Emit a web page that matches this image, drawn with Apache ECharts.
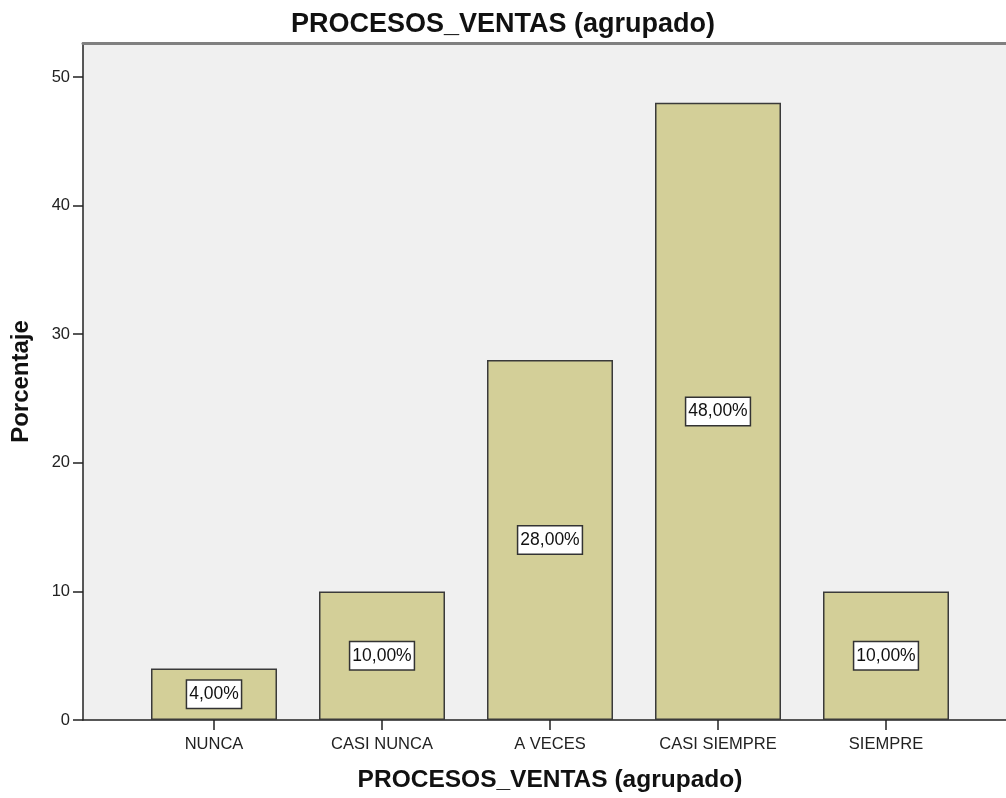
<!DOCTYPE html>
<html><head><meta charset="utf-8">
<script src="https://cdn.jsdelivr.net/npm/echarts@6/dist/echarts.min.js"></script>
<style>html,body{margin:0;padding:0;background:#fff}#c{width:1006px;height:798px}</style>
</head><body><div id="c"></div>
<script>
const categories = ['NUNCA', 'CASI NUNCA', 'A VECES', 'CASI SIEMPRE', 'SIEMPRE'];
const percentages = [4, 10, 28, 48, 10];
const yTicks = [0, 10, 20, 30, 40, 50];
const titleText = 'PROCESOS_VENTAS (agrupado)';
const xName = 'PROCESOS_VENTAS (agrupado)';
const yName = 'Porcentaje';

const FONT = '"Liberation Sans", Arial, sans-serif';
const YMAX = 52.65;
const chart = echarts.init(document.getElementById('c'), null, {renderer: 'canvas'});
chart.setOption({
  animation: false,
  textStyle: {fontFamily: FONT},
  title: {
    text: titleText, left: 'center', top: 6,
    textStyle: {fontFamily: FONT, fontSize: 27, fontWeight: 'bold', color: '#111'}
  },
  grid: [
    {left: 83, right: 0, top: 43, bottom: 78, show: true, backgroundColor: '#f0f0f0', borderWidth: 0},
    {left: 130, right: 36, top: 43, bottom: 78}
  ],
  xAxis: [
    {gridIndex: 0, type: 'value', min: 0, max: 1, position: 'bottom',
     axisLine: {show: true, lineStyle: {color: '#222', width: 1.5}},
     axisTick: {show: false}, axisLabel: {show: false}, splitLine: {show: false}},
    {gridIndex: 0, type: 'value', min: 0, max: 1, position: 'top',
     axisLine: {show: true, lineStyle: {color: '#808080', width: 3}},
     axisTick: {show: false}, axisLabel: {show: false}, splitLine: {show: false}},
    {gridIndex: 1, type: 'category', data: categories,
     axisLine: {show: false},
     axisTick: {show: true, alignWithLabel: true, length: 10, lineStyle: {color: '#222', width: 1.5}},
     axisLabel: {fontFamily: FONT, fontSize: 16.5, color: '#222', margin: 16},
     name: xName, nameLocation: 'middle', nameGap: 48,
     nameTextStyle: {fontFamily: FONT, fontSize: 24.5, fontWeight: 'bold', color: '#111'}}
  ],
  yAxis: [
    {gridIndex: 0, type: 'value', min: 0, max: YMAX,
     axisLine: {show: true, lineStyle: {color: '#222', width: 1.5}},
     axisTick: {show: true, length: 10, customValues: yTicks, lineStyle: {color: '#222', width: 1.5}},
     axisLabel: {fontFamily: FONT, fontSize: 16.5, color: '#222', margin: 13, customValues: yTicks},
     splitLine: {show: false},
     name: yName, nameLocation: 'middle', nameGap: 50,
     nameTextStyle: {fontFamily: FONT, fontSize: 24, fontWeight: 'bold', color: '#111'}},
    {gridIndex: 1, type: 'value', min: 0, max: YMAX, show: false}
  ],
  series: [{
    type: 'bar', xAxisIndex: 2, yAxisIndex: 1,
    data: percentages, barWidth: '75%',
    itemStyle: {color: '#d3cf98', borderColor: '#3a3a3a', borderWidth: 1.5},
    label: {
      show: true, position: 'inside',
      formatter: p => p.value.toFixed(2).replace('.', ',') + '%',
      fontFamily: FONT, fontSize: 17.5, color: '#111',
      backgroundColor: '#fff', borderColor: '#333', borderWidth: 1.5,
      padding: [5, 2, 4, 2]
    }
  }]
});
</script></body></html>
